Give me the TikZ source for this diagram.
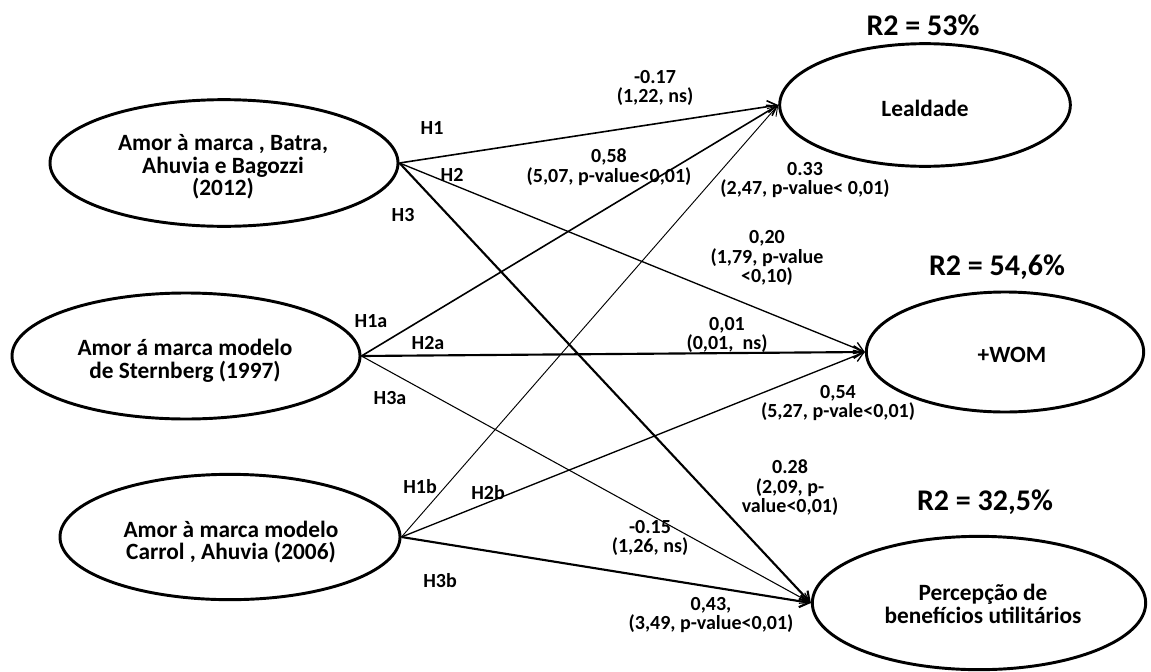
\documentclass[tikz,border=0pt]{standalone}
\usepackage{fontspec}
\setmainfont{Carlito}
\usetikzlibrary{shapes.geometric,arrows.meta}
\begin{document}
\begin{tikzpicture}[x=0.75pt,y=-0.75pt,
 latent/.style={draw, ellipse, line width=2.2pt, inner sep=0pt},
 ltext/.style={align=center, inner sep=0pt, font=\fontsize{17.5}{17}\selectfont\bfseries},
 ttext/.style={align=center, inner sep=0pt, font=\fontsize{17.5}{17}\selectfont\bfseries},
 pathline/.style={-{Straight Barb[length=7pt,width=9pt]}, line width=1.1pt},
 lbl/.style={align=center, font=\fontsize{15}{14.6}\selectfont\bfseries, inner sep=0pt},
 hyp/.style={font=\fontsize{15}{15}\selectfont\bfseries, inner sep=0pt},
 rsq/.style={font=\fontsize{22.5}{24}\selectfont\bfseries, inner sep=0pt}]
\useasboundingbox (0,0) rectangle (1151,671);

% source constructs
\node[latent, minimum width=261pt, minimum height=95pt] (batra) at (224,163) {};
\node[ltext] (batra-t) at (223,167) {Amor à marca , Batra,\\Ahuvia e Bagozzi\\(2012)};
\node[latent, minimum width=261pt, minimum height=94.5pt] (stern) at (186,356) {};
\node[ltext] (stern-t) at (185,361) {Amor á marca modelo\\de Sternberg (1997)};
\node[latent, minimum width=255pt, minimum height=94pt] (carrol) at (230,537) {};
\node[ltext] (carrol-t) at (231,542) {Amor à marca modelo\\Carrol , Ahuvia (2006)};

% target constructs
\node[latent, minimum width=218pt, minimum height=92pt] (leal) at (925,105) {};
\node[ttext] (leal-t) at (925,108) {Lealdade};
\node[latent, minimum width=208pt, minimum height=90pt] (wom) at (1005,352) {};
\node[ttext] (wom-t) at (1012,355) {+WOM};
\node[latent, minimum width=250pt, minimum height=100pt] (perc) at (979,603) {};
\node[ttext] (perc-t) at (983,604) {Percepção de\\benefícios utilitários};

% R2
\node[rsq] (r2a) at (923,25) {R2 = 53\%};
\node[rsq] (r2b) at (997,267) {R2 = 54,6\%};
\node[rsq] (r2c) at (985,502) {R2 = 32,5\%};

% paths
\draw[pathline, line width=1.2pt] (batra.east) -- (leal.west);
\draw[pathline, line width=1.0pt] (batra.east) -- (wom.west);
\draw[pathline, line width=1.6pt] (batra.east) -- (perc.west);
\draw[pathline, line width=1.2pt] (stern.east) -- (leal.west);
\draw[pathline, line width=1.6pt] (stern.east) -- (wom.west);
\draw[pathline, line width=0.8pt] (stern.east) -- (perc.west);
\draw[pathline, line width=0.7pt] (carrol.east) -- (leal.west);
\draw[pathline, line width=1.0pt] (carrol.east) -- (wom.west);
\draw[pathline, line width=1.6pt] (carrol.east) -- (perc.west);

% hypothesis labels
\node[hyp] (h1) at (432,128) {H1};
\node[hyp] (h2) at (452,175) {H2};
\node[hyp] (h3) at (403,215) {H3};
\node[hyp] (h1a) at (371,321) {H1a};
\node[hyp] (h2a) at (428,343) {H2a};
\node[hyp] (h3a) at (390,398) {H3a};
\node[hyp] (h1b) at (420,487) {H1b};
\node[hyp] (h2b) at (488,493) {H2b};
\node[hyp] (h3b) at (440,581) {H3b};

% coefficient labels
\node[lbl] (c1) at (655,88) {-0.17\\(1,22, ns)};
\node[lbl] (c2) at (609,167) {0,58\\(5,07, p-value<0,01)};
\node[lbl] (c3) at (805,180) {0.33\\(2,47, p-value< 0,01)};
\node[lbl] (c4) at (767,258) {0,20\\(1,79, p-value\\<0,10)};
\node[lbl] (c5) at (727,335) {0,01\\(0,01,\ \ ns)};
\node[lbl] (c6) at (838,403) {0,54\\(5,27, p-vale<0,01)};
\node[lbl] (c7) at (790,488) {0.28\\(2,09, p-\\value<0,01)};
\node[lbl] (c8) at (650,538) {-0.15\\(1,26, ns)};
\node[lbl] (c9) at (711,615) {0,43,\\(3,49, p-value<0,01)};
\end{tikzpicture}
\end{document}
